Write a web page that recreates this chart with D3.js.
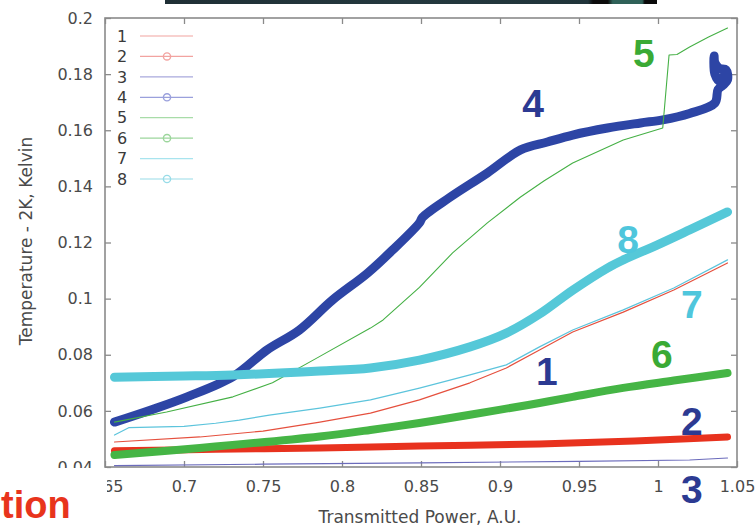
<!DOCTYPE html>
<html>
<head>
<meta charset="utf-8">
<script src="https://cdn.jsdelivr.net/npm/d3@7"></script>
<style>
  body { margin: 0; background: #fff; }
  svg { display: block; }
</style>
</head>
<body>
<script>
// Axis ticks
const xTicks = [0.65, 0.7, 0.75, 0.8, 0.85, 0.9, 0.95, 1.0, 1.05];
const xTickLabels = ["0.65", "0.7", "0.75", "0.8", "0.85", "0.9", "0.95", "1", "1.05"];
const yTicks = [0.04, 0.06, 0.08, 0.1, 0.12, 0.14, 0.16, 0.18, 0.2];
const yTickLabels = ["0.04", "0.06", "0.08", "0.1", "0.12", "0.14", "0.16", "0.18", "0.2"];

const seriesNames = ["1", "2", "3", "4", "5", "6", "7", "8"];

// Transmitted power (A.U.) and temperature above 2K (Kelvin) for each run
const power1 = [0.656, 0.71, 0.75, 0.786, 0.818, 0.849, 0.881, 0.904, 0.925, 0.946, 0.978, 1.01, 1.044];
const temp1  = [0.0489, 0.0507, 0.0528, 0.056, 0.0592, 0.0639, 0.070, 0.0753, 0.0817, 0.0881, 0.0952, 0.1031, 0.1127];

const power2 = [0.656, 0.72, 0.786, 0.849, 0.925, 0.97, 1.0, 1.044];
const temp2  = [0.0458, 0.0463, 0.0468, 0.0475, 0.0482, 0.049, 0.0496, 0.0507];

const power3 = [0.656, 0.75, 0.85, 0.95, 1.02, 1.044];
const temp3  = [0.0405, 0.041, 0.0415, 0.042, 0.0425, 0.0432];

const power4 = [0.656, 0.68, 0.702, 0.731, 0.7525, 0.773, 0.794, 0.816, 0.832, 0.849, 0.851, 0.868, 0.892, 0.913, 0.93, 0.946, 0.968, 0.989, 1.003, 1.02, 1.036,
                1.038, 1.041, 1.044, 1.043, 1.039, 1.036, 1.0355, 1.036, 1.039, 1.042];
const temp4  = [0.056, 0.0605, 0.065, 0.0722, 0.0817, 0.0888, 0.0995, 0.109, 0.1173, 0.127, 0.129, 0.136, 0.1448, 0.153, 0.1558, 0.1583, 0.1608, 0.1626, 0.1637, 0.166, 0.1697,
                0.1745, 0.176, 0.178, 0.1815, 0.182, 0.184, 0.1865, 0.180, 0.1775, 0.180];

const power5 = [0.656, 0.689, 0.731, 0.756, 0.784, 0.818, 0.826, 0.849, 0.87, 0.892, 0.913, 0.928, 0.946, 0.978, 1.003, 1.007, 1.012, 1.02, 1.032, 1.044];
const temp5  = [0.056, 0.0596, 0.065, 0.070, 0.0788, 0.0895, 0.0924, 0.1040, 0.1163, 0.127, 0.1362, 0.142, 0.1483, 0.1565, 0.1608, 0.1868, 0.187, 0.1897, 0.1932, 0.1964];

const power6 = [0.656, 0.71, 0.786, 0.818, 0.849, 0.881, 0.904, 0.925, 0.946, 0.978, 1.01, 1.044];
const temp6  = [0.0443, 0.0468, 0.0509, 0.0532, 0.0557, 0.0586, 0.0608, 0.0628, 0.065, 0.0682, 0.0708, 0.0735];

const power7 = [0.656, 0.665, 0.7, 0.72, 0.735, 0.754, 0.786, 0.818, 0.849, 0.881, 0.904, 0.925, 0.946, 0.978, 1.01, 1.044];
const temp7  = [0.0514, 0.054, 0.0545, 0.0556, 0.0567, 0.0585, 0.061, 0.0639, 0.0681, 0.0728, 0.0764, 0.0828, 0.0888, 0.096, 0.1038, 0.1138];

const power8 = [0.656, 0.7, 0.731, 0.786, 0.818, 0.849, 0.881, 0.904, 0.925, 0.946, 0.968, 0.978, 0.999, 1.02, 1.044];
const temp8  = [0.072, 0.0724, 0.0728, 0.0742, 0.0753, 0.0781, 0.0828, 0.0877, 0.0945, 0.103, 0.1109, 0.1138, 0.119, 0.1245, 0.1309];

// Run labels written next to the curves, in data coordinates
const noteText  = ["5", "4", "8", "7", "1", "6", "2", "3"];
const notePower = [0.9911, 0.9209, 0.981, 1.0215, 0.9297, 1.0025, 1.0215, 1.0215];
const noteTemp  = [0.1826, 0.1647, 0.1163, 0.0931, 0.0692, 0.0753, 0.0514, 0.0272];

const powers = [power1, power2, power3, power4, power5, power6, power7, power8];
const temps  = [temp1, temp2, temp3, temp4, temp5, temp6, temp7, temp8];

// Styles
const lineColor   = ["#e5503e", "#e8321e", "#6c6cbc", "#2d45a5", "#45b045", "#45b545", "#5cc4dc", "#55c8d8"];
const lineWidth   = [1.2, 7, 1.2, 9, 1.1, 8, 1.2, 9];
const smooth      = [false, true, false, true, false, true, false, true];
const legendColor = ["#f2a3a0", "#f2a3a0", "#a9a9dc", "#9aa0dc", "#a8dca8", "#9cd69c", "#a8e4ee", "#98dce8"];
const hasMarker   = [false, true, false, true, false, true, false, true];
const noteColor   = { "5": "#3aaa35", "6": "#3aaa35", "4": "#2c3a92", "1": "#2c3a92", "2": "#2c3a92", "3": "#2c3a92", "7": "#4fc6dc", "8": "#4fc6dc" };

const W = 756, H = 526;
const svg = d3.select("body").append("svg").attr("width", W).attr("height", H);
svg.append("rect").attr("width", W).attr("height", H).attr("fill", "#fff");

const plotLeft = 105, plotRight = 737, plotTop = 18, plotBottom = 467;
const x = d3.scaleLinear().domain([0.65, 1.05]).range([plotLeft, plotRight]);
const y = d3.scaleLinear().domain([0.04, 0.2]).range([plotBottom, plotTop]);

const font = "'DejaVu Sans', sans-serif";
const axisGrey = "#8a8a8a";
const textGrey = "#4a4a4a";

// Dark photo strip along the top edge
const defs = svg.append("defs");
const grad = defs.append("linearGradient").attr("id", "strip");
[[0, "#1f2f35"], [0.5, "#24383e"], [0.86, "#20343a"], [0.87, "#0c0c0c"], [0.9, "#0c0c0c"], [0.91, "#2f6158"], [0.97, "#2f6158"], [0.975, "#0a0a0a"], [1, "#0a0a0a"]]
  .forEach(([o, c]) => grad.append("stop").attr("offset", o).attr("stop-color", c));
svg.append("rect").attr("x", 165).attr("y", 0).attr("width", 492).attr("height", 4).attr("fill", "url(#strip)");

// Axes with inward ticks on all four sides
const gx = svg.append("g").attr("transform", `translate(0,${plotBottom})`)
  .call(d3.axisBottom(x).tickValues(xTicks).tickFormat((d, i) => xTickLabels[i]).tickSize(-6).tickPadding(14));
const gy = svg.append("g").attr("transform", `translate(${plotLeft},0)`)
  .call(d3.axisLeft(y).tickValues(yTicks).tickFormat((d, i) => yTickLabels[i]).tickSize(-6).tickPadding(12));
const gxt = svg.append("g").attr("transform", `translate(0,${plotTop})`)
  .call(d3.axisTop(x).tickValues(xTicks).tickFormat("").tickSize(-6));
const gyr = svg.append("g").attr("transform", `translate(${plotRight},0)`)
  .call(d3.axisRight(y).tickValues(yTicks).tickFormat("").tickSize(-6));
[gx, gy, gxt, gyr].forEach(g => {
  g.select(".domain").remove();
  g.selectAll(".tick line").attr("stroke", axisGrey).attr("stroke-width", 1.3);
  g.selectAll(".tick text").attr("fill", textGrey).style("font-family", font).style("font-size", "16px");
});

svg.append("rect").attr("x", plotLeft).attr("y", plotTop).attr("width", plotRight - plotLeft).attr("height", plotBottom - plotTop)
  .attr("fill", "none").attr("stroke", axisGrey).attr("stroke-width", 1.6);

// Curves
const clip = defs.append("clipPath").attr("id", "plot");
clip.append("rect").attr("x", plotLeft).attr("y", plotTop - 2).attr("width", plotRight - plotLeft + 1).attr("height", plotBottom - plotTop + 2);
const plot = svg.append("g").attr("clip-path", "url(#plot)");
const straight = d3.line().x(d => x(d[0])).y(d => y(d[1]));
const rounded = d3.line().x(d => x(d[0])).y(d => y(d[1])).curve(d3.curveCatmullRom.alpha(0.5));

seriesNames.forEach((name, i) => {
  const pts = powers[i].map((p, j) => [p, temps[i][j]]);
  plot.append("path")
    .datum(pts)
    .attr("d", smooth[i] ? rounded : straight)
    .attr("fill", "none")
    .attr("stroke", lineColor[i])
    .attr("stroke-width", lineWidth[i])
    .attr("stroke-linejoin", "round")
    .attr("stroke-linecap", "round");
});

// Legend
const legendRow = d3.scaleLinear().domain([0, 7]).range([36, 179]);
seriesNames.forEach((name, i) => {
  const ry = legendRow(i);
  svg.append("text").attr("x", 122).attr("y", ry).attr("dy", "0.36em")
    .attr("text-anchor", "middle").attr("fill", "#3a3a3a")
    .style("font-family", font).style("font-size", "16px").text(name);
  svg.append("line").attr("x1", 140).attr("x2", 193).attr("y1", ry).attr("y2", ry)
    .attr("stroke", legendColor[i]).attr("stroke-width", 1.2);
  if (hasMarker[i]) {
    svg.append("circle").attr("cx", 167).attr("cy", ry).attr("r", 3.6)
      .attr("fill", "none").attr("stroke", legendColor[i]).attr("stroke-width", 1.4);
  }
});

// Run labels
noteText.forEach((t, i) => {
  svg.append("text").attr("x", x(notePower[i])).attr("y", y(noteTemp[i]))
    .attr("text-anchor", "middle").attr("fill", noteColor[t])
    .style("font-family", "'Liberation Sans', Arial, sans-serif").style("font-weight", "bold").style("font-size", "39px")
    .text(t);
});

// Axis titles
svg.append("text").attr("transform", "translate(32,241) rotate(-90)")
  .attr("text-anchor", "middle").attr("fill", textGrey)
  .style("font-family", font).style("font-size", "17px")
  .text("Temperature - 2K, Kelvin");
svg.append("text").attr("x", 420).attr("y", 523)
  .attr("text-anchor", "middle").attr("fill", textGrey)
  .style("font-family", font).style("font-size", "17px")
  .text("Transmitted Power, A.U.");

// Slide title fragment overlapping the chart's lower-left corner
svg.append("rect").attr("x", 0).attr("y", 468).attr("width", 107).attr("height", 58).attr("fill", "#fff");
svg.append("text").attr("x", 1).attr("y", 518)
  .attr("fill", "#e8341c")
  .style("font-family", "'Liberation Sans', Arial, sans-serif").style("font-weight", "bold").style("font-size", "38px")
  .text("tion");
</script>
</body>
</html>
